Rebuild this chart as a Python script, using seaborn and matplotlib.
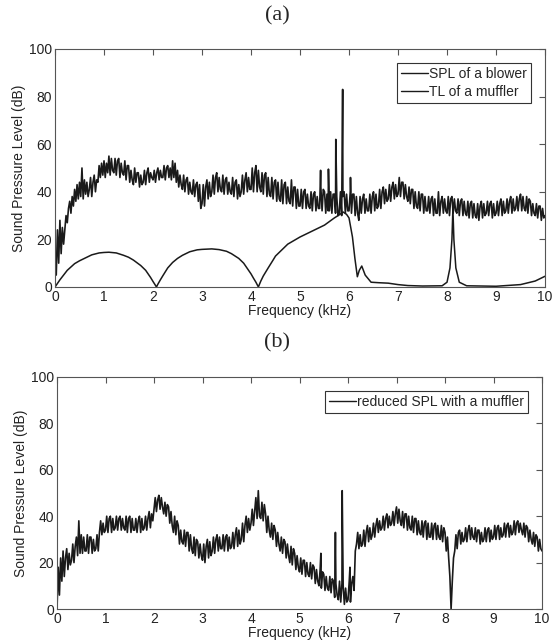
import numpy as np
import pandas as pd
import matplotlib
matplotlib.use("Agg")
import matplotlib.pyplot as plt
import seaborn as sns

# =========================
# DATA
# =========================
# grid of the noisy spectra: 0 .. 10 kHz, 0.025 kHz apart
freq_grid = np.round(np.arange(0, 10.0001, 0.025), 3)

# one row = 0.1 kHz (4 readings)
spl_blower = [
    15, 5, 24, 10,   28, 14, 25, 18,   24, 30, 27, 33,   36, 31, 38, 34,
    41, 36, 43, 37,  44, 38, 50, 37,   45, 39, 44, 38,   41, 46, 38, 44,
    47, 40, 45, 44,  51, 46, 52, 47,   53, 46, 52, 48,   55, 47, 54, 49,
    48, 54, 47, 53,  54, 46, 52, 48,   47, 53, 45, 51,   51, 44, 49, 45,
    43, 50, 44, 48,  48, 42, 47, 43,   44, 49, 43, 48,   50, 44, 48, 46,
    45, 49, 44, 48,  50, 45, 49, 46,   46, 51, 45, 50,   51, 46, 50, 45,
    53, 46, 52, 44,  49, 42, 47, 43,   41, 47, 40, 45,   46, 39, 44, 40,
    39, 45, 38, 43,  44, 36, 43, 33,   35, 43, 34, 42,   45, 37, 44, 38,
    40, 47, 39, 46,  48, 40, 46, 41,   40, 47, 39, 45,   46, 39, 44, 40,
    39, 46, 38, 44,  45, 37, 43, 38,   40, 47, 39, 45,   48, 40, 46, 41,
    41, 50, 40, 48,  51, 40, 49, 42,   40, 48, 39, 47,   48, 38, 46, 39,
    38, 46, 37, 44,  45, 36, 44, 37,   36, 45, 35, 43,   44, 35, 42, 36,
    35, 45, 34, 42,  42, 33, 41, 34,   34, 41, 33, 40,   41, 33, 39, 34,
    33, 40, 32, 39,  40, 32, 38, 33,   33, 42, 32, 41,   40, 31, 39, 32,
    32, 40, 31, 39,  39, 31, 38, 30,   31, 40, 30, 38,   40, 31, 39, 32,
    32, 40, 31, 39,  39, 30, 38, 31,   28, 38, 31, 37,   39, 31, 37, 32,
    32, 39, 31, 38,  40, 32, 39, 33,   34, 41, 33, 40,   42, 35, 41, 36,
    37, 43, 36, 42,  44, 37, 43, 38,   39, 46, 38, 44,   44, 37, 43, 38,
    36, 42, 35, 41,  41, 33, 40, 34,   33, 40, 32, 39,   39, 31, 38, 32,
    32, 38, 31, 37,  38, 30, 37, 31,   31, 40, 30, 36,   38, 31, 37, 32,
    31, 38, 30, 37,  38, 31, 37, 32,   31, 37, 30, 36,   37, 30, 36, 31,
    30, 36, 29, 35,  36, 29, 35, 30,   29, 35, 28, 34,   36, 29, 35, 30,
    31, 36, 30, 35,  36, 29, 35, 30,   31, 36, 30, 35,   37, 30, 36, 31,
    32, 37, 31, 36,  38, 31, 37, 32,   33, 38, 32, 37,   39, 32, 38, 33,
    32, 38, 31, 37,  36, 30, 35, 31,   30, 35, 29, 34,   34, 28, 33, 29,
    30,
]
blower_peak_freq = [5.42, 5.58, 5.73, 5.87, 6.03]
blower_peak_level = [49, 49.5, 62, 83, 46]

tl_freq = [0, 0.1, 0.25, 0.4, 0.5, 0.6, 0.75, 0.9, 1.0, 1.1, 1.25, 1.4,
           1.5, 1.6, 1.75, 1.85, 1.9, 1.95, 2.0, 2.04, 2.07,
           2.1, 2.15, 2.2, 2.3, 2.4, 2.5, 2.6, 2.75, 2.9, 3.0, 3.2, 3.35,
           3.5, 3.6, 3.75, 3.85, 3.9, 3.95, 4.0, 4.05, 4.1, 4.15,
           4.2, 4.25, 4.35, 4.45, 4.5, 4.6, 4.75, 5.0, 5.25, 5.5, 5.7,
           5.8, 5.88, 5.95, 6.0, 6.07,
           6.12, 6.17, 6.21, 6.26, 6.33, 6.45, 6.6, 6.8, 7.0, 7.2, 7.5,
           7.9, 8.0, 8.06, 8.1, 8.12, 8.14, 8.18, 8.25, 8.4, 9.0, 9.5,
           9.8, 10.0]
tl_muffler = [0, 3, 7, 9.8, 11, 12, 13.5, 14.3, 14.5, 14.6, 14.3, 13.3,
              12.5, 11.3, 9, 7, 5.5, 4, 2.3, 1, 0,
              1.2, 3, 4.7, 8, 10.3, 12, 13.3, 14.8, 15.6, 15.8, 16, 15.7,
              15, 14, 12, 10, 8.5, 7, 5.5, 3.7, 2, 0,
              2.5, 4.6, 8, 11.3, 13, 15, 18, 21, 23.5, 26, 29,
              30.3, 31.5, 30.5, 29, 21,
              12, 4.3, 7, 8.8, 5, 2, 1.8, 1.6, 1, 0.6, 0.4,
              0.5, 2, 8, 20, 33, 20, 8, 2, 0.5, 0.3, 1,
              2.5, 4.5]

spl_reduced = [
    0, 18, 6, 22,    12, 25, 14, 22,   26, 17, 24, 19,   21, 28, 20, 27,
    31, 23, 38, 24,  32, 24, 31, 25,   25, 32, 24, 31,   31, 24, 30, 25,
    26, 32, 25, 33,  38, 32, 37, 33,   34, 40, 33, 39,   40, 33, 39, 34,
    35, 40, 34, 39,  40, 34, 39, 35,   34, 40, 33, 39,   40, 33, 39, 34,
    34, 39, 33, 38,  40, 33, 39, 34,   35, 40, 34, 39,   42, 35, 41, 38,
    43, 48, 42, 47,  49, 43, 48, 44,   41, 46, 40, 45,   44, 37, 42, 36,
    33, 40, 32, 38,  36, 28, 34, 29,   28, 34, 27, 33,   33, 25, 32, 26,
    24, 31, 23, 30,  29, 22, 28, 23,   21, 28, 20, 27,   30, 22, 29, 23,
    25, 31, 24, 30,  32, 25, 31, 26,   26, 32, 25, 31,   32, 25, 31, 26,
    27, 33, 26, 32,  35, 27, 34, 28,   30, 37, 29, 36,   40, 33, 39, 34,
    37, 43, 36, 42,  48, 39, 51, 40,   39, 46, 38, 45,   41, 33, 40, 34,
    31, 37, 30, 36,  34, 27, 33, 28,   25, 31, 24, 30,   29, 22, 28, 23,
    20, 27, 19, 26,  24, 17, 23, 18,   16, 22, 15, 21,   21, 14, 20, 15,
    14, 20, 13, 19,  18, 11, 17, 12,   10, 17, 9, 16,    15, 8, 14, 9,
    8, 14, 7, 13,    12, 5, 11, 6,     4, 12, 3, 11,     10, 2, 9, 3,
    4, 12, 3, 11,    14, 8, 25, 28,    33, 26, 32, 27,   28, 34, 27, 33,
    36, 29, 35, 30,  32, 37, 31, 36,   39, 33, 38, 34,   35, 40, 34, 39,
    41, 35, 40, 36,  37, 42, 36, 41,   44, 37, 43, 38,   36, 42, 35, 41,
    41, 34, 40, 35,  34, 40, 33, 39,   39, 32, 38, 33,   32, 38, 31, 37,
    38, 30, 37, 31,  31, 37, 30, 36,   37, 30, 36, 31,   30, 36, 29, 35,
    33, 25, 31, 22,  14, 0, 12, 22,    25, 32, 26, 33,   34, 28, 33, 29,
    30, 35, 29, 34,  36, 30, 35, 31,   30, 35, 29, 34,   34, 28, 33, 29,
    30, 35, 29, 34,  35, 29, 34, 30,   31, 36, 30, 35,   36, 30, 35, 31,
    32, 37, 31, 36,  37, 31, 36, 32,   33, 38, 32, 37,   38, 33, 37, 34,
    32, 37, 31, 36,  35, 29, 34, 30,   28, 33, 27, 32,   31, 25, 30, 26,
    25,
]
reduced_peak_freq = [5.44, 5.74, 5.88, 6.04]
reduced_peak_level = [24, 33, 51, 18]

x_ticks = list(range(0, 11))
y_ticks = [0, 20, 40, 60, 80, 100]


def merge_series(grid, values, extra_f, extra_v):
    df = pd.DataFrame({"freq": list(grid) + extra_f,
                       "level": list(values) + extra_v})
    return df.sort_values("freq", kind="mergesort").reset_index(drop=True)


blower_df = merge_series(freq_grid, spl_blower, blower_peak_freq, blower_peak_level)
tl_df = pd.DataFrame({"freq": tl_freq, "level": tl_muffler})
reduced_df = merge_series(freq_grid, spl_reduced, reduced_peak_freq, reduced_peak_level)

# =========================
# STYLE
# =========================
sns.set_theme(style="white")
plt.rcParams["font.family"] = ["Liberation Sans", "DejaVu Sans"]
plt.rcParams["font.size"] = 10
LINE = "#1a1a1a"
AXC = "#555555"


def style_axes(ax):
    ax.set_xlim(0, 10)
    ax.set_ylim(0, 100)
    ax.set_xticks(x_ticks)
    ax.set_yticks(y_ticks)
    ax.tick_params(direction="in", length=4, width=0.8, color=AXC,
                   labelsize=10, labelcolor="#222222", pad=2,
                   top=True, right=True)
    for s in ax.spines.values():
        s.set_color(AXC)
        s.set_linewidth(0.8)
    ax.set_xlabel("Frequency (kHz)", fontsize=10, color="#222222", labelpad=0)
    ax.set_ylabel("Sound Pressure Level (dB)", fontsize=10, color="#222222", labelpad=2)


def style_legend(ax):
    leg = ax.legend(loc="upper right", frameon=True, fancybox=False,
                    framealpha=1, edgecolor="#333333", fontsize=10,
                    handlelength=1.9, handletextpad=0.1,
                    borderpad=0.3, labelspacing=0.25,
                    borderaxespad=1.0)
    leg.get_frame().set_linewidth(0.8)
    for line in leg.get_lines():
        line.set_linewidth(1.0)


fig = plt.figure(figsize=(5.54, 6.42), dpi=100)

# =========================
# PANEL (a)
# =========================
ax_a = fig.add_axes([0.0993, 0.553, 0.8845, 0.3707])
sns.lineplot(data=blower_df, x="freq", y="level", ax=ax_a, color=LINE,
             linewidth=1.2, estimator=None, sort=False, label="SPL of a blower")
sns.lineplot(data=tl_df, x="freq", y="level", ax=ax_a, color=LINE,
             linewidth=1.1, estimator=None, sort=False, label="TL of a muffler")
style_axes(ax_a)
style_legend(ax_a)

# =========================
# PANEL (b)
# =========================
ax_b = fig.add_axes([0.1029, 0.0514, 0.8755, 0.3614])
sns.lineplot(data=reduced_df, x="freq", y="level", ax=ax_b, color=LINE,
             linewidth=1.2, estimator=None, sort=False,
             label="reduced SPL with a muffler")
style_axes(ax_b)
style_legend(ax_b)

fig.text(0.5, 0.976, "(a)", ha="center", va="center", fontsize=16,
         family=["Liberation Serif", "DejaVu Serif"])
fig.text(0.5, 0.466, "(b)", ha="center", va="center", fontsize=16,
         family=["Liberation Serif", "DejaVu Serif"])

fig.savefig("out.png", dpi=100)
plt.close(fig)
